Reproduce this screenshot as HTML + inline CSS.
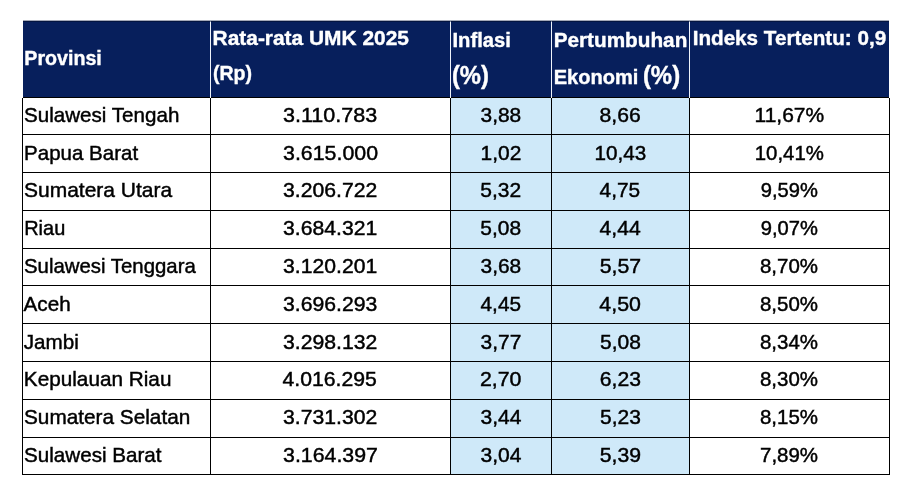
<!DOCTYPE html>
<html lang="id"><head><meta charset="utf-8"><title>Tabel UMK 2025</title>
<style>
html,body{margin:0;padding:0;background:#fff;}
body{width:908px;height:492px;overflow:hidden;}
svg{display:block;}
text{font-family:"Liberation Sans",sans-serif;font-size:21.0px;}
.h{fill:#fff;font-weight:bold;stroke:#fff;stroke-width:0.4px;}
.p{font-size:25px;}
.b{fill:#000;stroke:#000;stroke-width:0.45px;}
</style></head><body>
<svg width="908" height="492" viewBox="0 0 908 492">
<rect x="23" y="20.75" width="866" height="76.25" fill="#071f5c"/>
<rect x="23" y="20.75" width="866" height="0.8" fill="#000" fill-opacity="0.55"/>
<rect x="451" y="98" width="238" height="376" fill="#cfe9f9"/>
<rect x="23" y="97" width="866" height="1" fill="#000"/>
<rect x="210" y="21.5" width="1" height="76.5" fill="#eef3fb"/>
<rect x="450" y="21.5" width="1" height="76.5" fill="#eef3fb"/>
<rect x="551" y="21.5" width="1" height="76.5" fill="#eef3fb"/>
<rect x="689" y="21.5" width="1" height="76.5" fill="#eef3fb"/>
<rect x="22" y="98" width="1" height="377" fill="#000"/>
<rect x="210" y="98" width="1" height="377" fill="#000"/>
<rect x="450" y="98" width="1" height="377" fill="#000"/>
<rect x="551" y="98" width="1" height="377" fill="#000"/>
<rect x="689" y="98" width="1" height="377" fill="#000"/>
<rect x="889" y="98" width="1" height="377" fill="#000"/>
<rect x="22" y="134" width="868" height="1" fill="#000"/>
<rect x="22" y="172" width="868" height="1" fill="#000"/>
<rect x="22" y="210" width="868" height="1" fill="#000"/>
<rect x="22" y="248" width="868" height="1" fill="#000"/>
<rect x="22" y="285" width="868" height="1" fill="#000"/>
<rect x="22" y="323" width="868" height="1" fill="#000"/>
<rect x="22" y="361" width="868" height="1" fill="#000"/>
<rect x="22" y="399" width="868" height="1" fill="#000"/>
<rect x="22" y="437" width="868" height="1" fill="#000"/>
<rect x="22" y="474" width="868" height="1" fill="#000"/>
<text id="h0" class="h" x="24.30" y="65" text-anchor="start" textLength="77.53" lengthAdjust="spacingAndGlyphs">Provinsi</text>
<text id="h1a" class="h" x="212.60" y="45" text-anchor="start" textLength="196.34" lengthAdjust="spacingAndGlyphs">Rata-rata UMK 2025</text>
<text id="h1b" class="h" x="212.90" y="80" text-anchor="start" textLength="39.10" lengthAdjust="spacingAndGlyphs">(Rp)</text>
<text id="h2a" class="h" x="452.50" y="47" text-anchor="start" textLength="58.31" lengthAdjust="spacingAndGlyphs">Inflasi</text>
<text id="h2b" class="h p" x="451.90" y="84" text-anchor="start" textLength="36.99" lengthAdjust="spacingAndGlyphs">(%)</text>
<text id="h3a" class="h" x="553.70" y="47" text-anchor="start" textLength="133.62" lengthAdjust="spacingAndGlyphs">Pertumbuhan</text>
<text id="h3b" class="h" y="84" text-anchor="start"><tspan x="553.70" textLength="84.74" lengthAdjust="spacingAndGlyphs">Ekonomi</tspan> <tspan class="p" x="642.90" textLength="37.25" lengthAdjust="spacingAndGlyphs">(%)</tspan></text>
<text id="h4" class="h" x="692.70" y="45" text-anchor="start" textLength="193.48" lengthAdjust="spacingAndGlyphs">Indeks Tertentu: 0,9</text>
<text id="r0c0" class="b" x="24.00" y="122" text-anchor="start" textLength="155.37" lengthAdjust="spacingAndGlyphs">Sulawesi Tengah</text>
<text id="r0c1" class="b" x="330.15" y="122" text-anchor="middle" textLength="94.21" lengthAdjust="spacingAndGlyphs">3.110.783</text>
<text id="r0c2" class="b" x="500.90" y="122" text-anchor="middle" textLength="40.67" lengthAdjust="spacingAndGlyphs">3,88</text>
<text id="r0c3" class="b" x="620.15" y="122" text-anchor="middle" textLength="41.19" lengthAdjust="spacingAndGlyphs">8,66</text>
<text id="r0c4" class="b" x="789.35" y="122" text-anchor="middle" textLength="69.57" lengthAdjust="spacingAndGlyphs">11,67%</text>
<text id="r1c0" class="b" x="24.10" y="160" text-anchor="start" textLength="114.04" lengthAdjust="spacingAndGlyphs">Papua Barat</text>
<text id="r1c1" class="b" x="330.55" y="160" text-anchor="middle" textLength="94.95" lengthAdjust="spacingAndGlyphs">3.615.000</text>
<text id="r1c2" class="b" x="500.95" y="160" text-anchor="middle" textLength="40.77" lengthAdjust="spacingAndGlyphs">1,02</text>
<text id="r1c3" class="b" x="620.30" y="160" text-anchor="middle" textLength="51.73" lengthAdjust="spacingAndGlyphs">10,43</text>
<text id="r1c4" class="b" x="789.30" y="160" text-anchor="middle" textLength="69.18" lengthAdjust="spacingAndGlyphs">10,41%</text>
<text id="r2c0" class="b" x="24.00" y="197" text-anchor="start" textLength="148.13" lengthAdjust="spacingAndGlyphs">Sumatera Utara</text>
<text id="r2c1" class="b" x="330.20" y="197" text-anchor="middle" textLength="94.26" lengthAdjust="spacingAndGlyphs">3.206.722</text>
<text id="r2c2" class="b" x="500.80" y="197" text-anchor="middle" textLength="40.87" lengthAdjust="spacingAndGlyphs">5,32</text>
<text id="r2c3" class="b" x="619.85" y="197" text-anchor="middle" textLength="40.57" lengthAdjust="spacingAndGlyphs">4,75</text>
<text id="r2c4" class="b" x="789.30" y="197" text-anchor="middle" textLength="57.10" lengthAdjust="spacingAndGlyphs">9,59%</text>
<text id="r3c0" class="b" x="24.20" y="235" text-anchor="start" textLength="41.07" lengthAdjust="spacingAndGlyphs">Riau</text>
<text id="r3c1" class="b" x="330.15" y="235" text-anchor="middle" textLength="94.15" lengthAdjust="spacingAndGlyphs">3.684.321</text>
<text id="r3c2" class="b" x="500.75" y="235" text-anchor="middle" textLength="40.77" lengthAdjust="spacingAndGlyphs">5,08</text>
<text id="r3c3" class="b" x="620.15" y="235" text-anchor="middle" textLength="41.18" lengthAdjust="spacingAndGlyphs">4,44</text>
<text id="r3c4" class="b" x="789.30" y="235" text-anchor="middle" textLength="57.10" lengthAdjust="spacingAndGlyphs">9,07%</text>
<text id="r4c0" class="b" x="24.00" y="273" text-anchor="start" textLength="171.76" lengthAdjust="spacingAndGlyphs">Sulawesi Tenggara</text>
<text id="r4c1" class="b" x="330.15" y="273" text-anchor="middle" textLength="94.15" lengthAdjust="spacingAndGlyphs">3.120.201</text>
<text id="r4c2" class="b" x="500.90" y="273" text-anchor="middle" textLength="40.67" lengthAdjust="spacingAndGlyphs">3,68</text>
<text id="r4c3" class="b" x="620.35" y="273" text-anchor="middle" textLength="41.40" lengthAdjust="spacingAndGlyphs">5,57</text>
<text id="r4c4" class="b" x="788.95" y="273" text-anchor="middle" textLength="58.02" lengthAdjust="spacingAndGlyphs">8,70%</text>
<text id="r5c0" class="b" x="23.60" y="311" text-anchor="start" textLength="47.05" lengthAdjust="spacingAndGlyphs">Aceh</text>
<text id="r5c1" class="b" x="330.20" y="311" text-anchor="middle" textLength="94.26" lengthAdjust="spacingAndGlyphs">3.696.293</text>
<text id="r5c2" class="b" x="500.80" y="311" text-anchor="middle" textLength="40.48" lengthAdjust="spacingAndGlyphs">4,45</text>
<text id="r5c3" class="b" x="620.15" y="311" text-anchor="middle" textLength="41.59" lengthAdjust="spacingAndGlyphs">4,50</text>
<text id="r5c4" class="b" x="788.95" y="311" text-anchor="middle" textLength="58.02" lengthAdjust="spacingAndGlyphs">8,50%</text>
<text id="r6c0" class="b" x="23.80" y="349" text-anchor="start" textLength="55.02" lengthAdjust="spacingAndGlyphs">Jambi</text>
<text id="r6c1" class="b" x="330.20" y="349" text-anchor="middle" textLength="94.26" lengthAdjust="spacingAndGlyphs">3.298.132</text>
<text id="r6c2" class="b" x="500.95" y="349" text-anchor="middle" textLength="40.77" lengthAdjust="spacingAndGlyphs">3,77</text>
<text id="r6c3" class="b" x="620.40" y="349" text-anchor="middle" textLength="40.88" lengthAdjust="spacingAndGlyphs">5,08</text>
<text id="r6c4" class="b" x="788.95" y="349" text-anchor="middle" textLength="58.02" lengthAdjust="spacingAndGlyphs">8,34%</text>
<text id="r7c0" class="b" x="23.80" y="386" text-anchor="start" textLength="147.62" lengthAdjust="spacingAndGlyphs">Kepulauan Riau</text>
<text id="r7c1" class="b" x="329.65" y="386" text-anchor="middle" textLength="94.35" lengthAdjust="spacingAndGlyphs">4.016.295</text>
<text id="r7c2" class="b" x="500.70" y="386" text-anchor="middle" textLength="41.51" lengthAdjust="spacingAndGlyphs">2,70</text>
<text id="r7c3" class="b" x="620.35" y="386" text-anchor="middle" textLength="41.19" lengthAdjust="spacingAndGlyphs">6,23</text>
<text id="r7c4" class="b" x="788.95" y="386" text-anchor="middle" textLength="58.02" lengthAdjust="spacingAndGlyphs">8,30%</text>
<text id="r8c0" class="b" x="24.00" y="424" text-anchor="start" textLength="166.29" lengthAdjust="spacingAndGlyphs">Sumatera Selatan</text>
<text id="r8c1" class="b" x="330.20" y="424" text-anchor="middle" textLength="94.26" lengthAdjust="spacingAndGlyphs">3.731.302</text>
<text id="r8c2" class="b" x="501.05" y="424" text-anchor="middle" textLength="40.98" lengthAdjust="spacingAndGlyphs">3,44</text>
<text id="r8c3" class="b" x="620.40" y="424" text-anchor="middle" textLength="40.88" lengthAdjust="spacingAndGlyphs">5,23</text>
<text id="r8c4" class="b" x="788.95" y="424" text-anchor="middle" textLength="58.02" lengthAdjust="spacingAndGlyphs">8,15%</text>
<text id="r9c0" class="b" x="24.00" y="462" text-anchor="start" textLength="137.56" lengthAdjust="spacingAndGlyphs">Sulawesi Barat</text>
<text id="r9c1" class="b" x="330.50" y="462" text-anchor="middle" textLength="94.85" lengthAdjust="spacingAndGlyphs">3.164.397</text>
<text id="r9c2" class="b" x="501.05" y="462" text-anchor="middle" textLength="40.98" lengthAdjust="spacingAndGlyphs">3,04</text>
<text id="r9c3" class="b" x="620.40" y="462" text-anchor="middle" textLength="41.29" lengthAdjust="spacingAndGlyphs">5,39</text>
<text id="r9c4" class="b" x="789.05" y="462" text-anchor="middle" textLength="58.01" lengthAdjust="spacingAndGlyphs">7,89%</text>
</svg></body></html>
